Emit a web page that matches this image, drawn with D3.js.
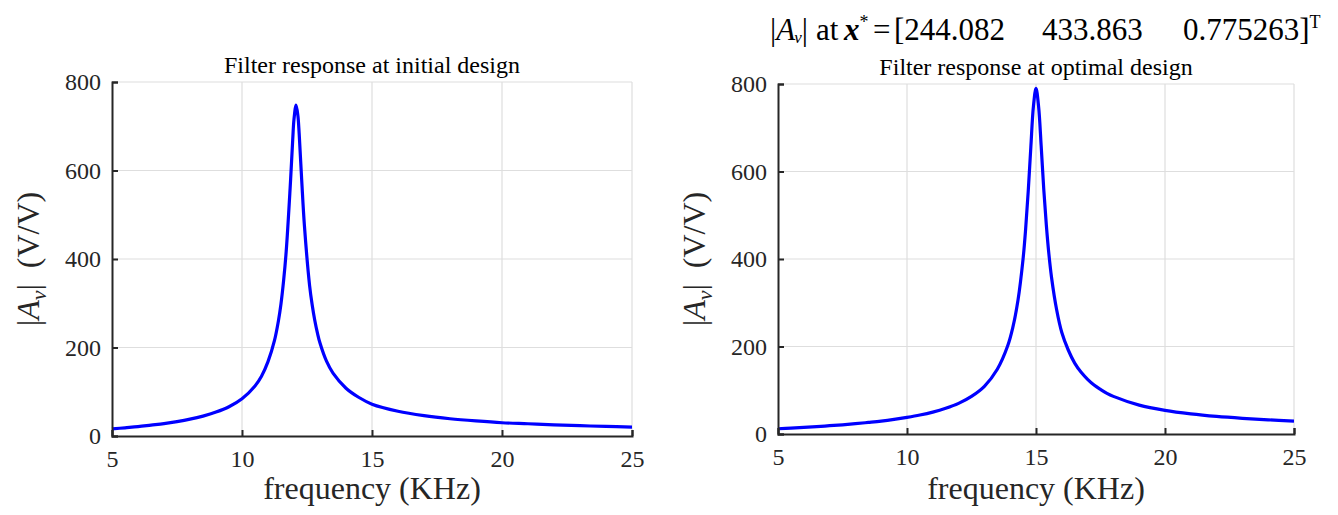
<!DOCTYPE html>
<html>
<head>
<meta charset="utf-8">
<script src="https://cdn.jsdelivr.net/npm/d3@7"></script>
<style>
  html, body { margin: 0; padding: 0; background: #fff; }
  svg { display: block; }
  text { font-family: "Liberation Serif", "Times New Roman", serif; fill: #262626; white-space: pre; }
</style>
</head>
<body>
<svg id="chart" width="1338" height="515"></svg>
<script>
// ---- data ----
const xTicks = [5, 10, 15, 20, 25];
const yTicks = [0, 200, 400, 600, 800];

const initialFreq = [5, 5.5, 6, 6.5, 7, 7.5, 8, 8.5, 9, 9.5, 10, 10.5, 10.75, 11, 11.25, 11.4, 11.5, 11.6, 11.7, 11.85, 11.95, 12.0, 12.08, 12.15, 12.2, 12.3, 12.4, 12.6, 12.7, 12.8, 12.9, 13, 13.25, 13.5, 14, 14.5, 15, 16, 17, 18, 19, 20, 21, 22, 23, 24, 25];
const initialMag  = [16, 18.5, 21, 24.5, 28, 32.5, 38, 45, 54, 66, 84, 113, 135, 168, 216, 260, 299, 351, 417, 559, 669, 716, 748, 724, 682, 574, 476, 340, 296, 261, 233, 210, 169, 142, 108, 87, 72, 56, 46, 39, 34, 30, 27.7, 25.3, 23.3, 21.7, 20];

const optimalFreq = [5, 5.5, 6, 6.5, 7, 7.5, 8, 8.5, 9, 9.5, 10, 10.5, 11, 11.5, 12, 12.5, 13, 13.5, 13.9, 14.1, 14.3, 14.5, 14.6, 14.7, 14.8, 14.9, 15, 15.1, 15.2, 15.3, 15.4, 15.5, 15.6, 15.8, 16, 16.25, 16.5, 16.75, 17, 17.25, 17.5, 17.75, 18, 19, 20, 21, 22, 23, 24, 25];
const optimalMag  = [12, 13.4, 15, 16.8, 19, 21, 23.5, 26.4, 29.5, 33.4, 38, 43.3, 50, 58.7, 70, 86, 109, 148, 201, 243, 305, 401, 470, 556, 656, 749, 790, 749, 659, 560, 478, 411, 359, 284, 232, 192, 162, 141, 125, 112, 102, 93, 86, 66, 54, 46, 40.2, 35.9, 32.4, 29.6];

const panelTitles = ["Filter response at initial design", "Filter response at optimal design"];
const xLabelText = "frequency (KHz)";
const optimumValues = ["244.082", "433.863", "0.775263"];

// ---- drawing ----
const svg = d3.select("#chart");
const AX = "#262626", GRID = "#dedede", LINE = "#0000ff";

function panel(cfg) {
  const x = d3.scaleLinear().domain([5, 25]).range([cfg.left, cfg.right]);
  const y = d3.scaleLinear().domain([0, 800]).range([cfg.bottom, cfg.top]);
  const g = svg.append("g");

  // grid
  g.append("g").selectAll("line").data(xTicks.filter(d => d !== 5)).join("line")
    .attr("x1", d => x(d)).attr("x2", d => x(d)).attr("y1", y(0)).attr("y2", y(800))
    .attr("stroke", GRID).attr("stroke-width", 1.2);
  g.append("g").selectAll("line").data(yTicks.filter(d => d !== 0)).join("line")
    .attr("x1", x(5)).attr("x2", x(25)).attr("y1", d => y(d)).attr("y2", d => y(d))
    .attr("stroke", GRID).attr("stroke-width", 1.2);

  // curve
  const line = d3.line().x(d => x(d[0])).y(d => y(d[1])).curve(d3.curveCatmullRom.alpha(0.5));
  g.append("path").datum(cfg.freq.map((f, i) => [f, cfg.mag[i]]))
    .attr("d", line).attr("fill", "none").attr("stroke", LINE)
    .attr("stroke-width", 3.2).attr("stroke-linejoin", "round");

  // axes (ticks inward)
  const xAxis = d3.axisBottom(x).tickValues(xTicks).tickSize(-6).tickPadding(14).tickFormat(d3.format("d"));
  const yAxis = d3.axisLeft(y).tickValues(yTicks).tickSize(-6).tickPadding(11).tickFormat(d3.format("d"));
  const gx = g.append("g").attr("transform", `translate(0,${cfg.bottom})`).call(xAxis);
  const gy = g.append("g").attr("transform", `translate(${cfg.left},0)`).call(yAxis);
  [gx, gy].forEach(a => {
    a.attr("font-family", null).attr("font-size", null);
    a.select(".domain").attr("stroke", AX).attr("stroke-width", 2);
    a.selectAll(".tick line").attr("stroke", AX).attr("stroke-width", 2);
    a.selectAll(".tick text").attr("fill", AX).style("font-family", '"Liberation Serif", serif').style("font-size", "24px");
  });
  gx.selectAll(".tick text").attr("dy", "0.71em");

  // panel title
  g.append("text").attr("x", (cfg.left + cfg.right) / 2).attr("y", cfg.titleY)
    .attr("text-anchor", "middle").style("font-size", "24px").style("fill", "#000").text(cfg.title);

  // x label
  g.append("text").attr("x", (cfg.left + cfg.right) / 2).attr("y", 499)
    .attr("text-anchor", "middle").style("font-size", "32px").text(xLabelText);

  // y label
  const yl = g.append("text").attr("transform", `translate(${cfg.ylabX},${(cfg.top + cfg.bottom) / 2}) rotate(-90)`)
    .attr("text-anchor", "middle").style("font-size", "32px");
  yl.append("tspan").text("|");
  yl.append("tspan").style("font-style", "italic").text("A");
  yl.append("tspan").style("font-style", "italic").style("font-size", "22px").attr("dy", 7).text("v");
  yl.append("tspan").attr("dy", -7).text("|  (V/V)");
}

panel({ left: 112, right: 632, top: 82, bottom: 436, freq: initialFreq, mag: initialMag,
        title: panelTitles[0], titleY: 73, ylabX: 39 });
panel({ left: 778, right: 1294, top: 84, bottom: 434, freq: optimalFreq, mag: optimalMag,
        title: panelTitles[1], titleY: 75, ylabX: 705 });

// overall title on the right panel (one text element, pieces placed like the reference)
const t = svg.append("text").attr("x", 770).attr("y", 40).style("font-size", "31px").style("fill", "#000");
t.append("tspan").text("|");
t.append("tspan").style("font-style", "italic").text("A");
t.append("tspan").style("font-style", "italic").style("font-size", "17px").attr("dy", 3).attr("dx", -1).text("v");
t.append("tspan").attr("dy", -3).text("|");
t.append("tspan").attr("x", 816).text("at");
t.append("tspan").attr("x", 844).style("font-style", "italic").style("font-weight", "bold").text("x");
t.append("tspan").style("font-size", "18px").attr("dy", -12).text("*");
t.append("tspan").attr("x", 873).attr("dy", 12).text("=");
t.append("tspan").attr("x", 894).text("[" + optimumValues[0]);
t.append("tspan").attr("x", 1042).text(optimumValues[1]);
t.append("tspan").attr("x", 1183).text(optimumValues[2] + "]");
t.append("tspan").style("font-size", "18px").attr("dy", -12).text("T");
</script>
</body>
</html>
